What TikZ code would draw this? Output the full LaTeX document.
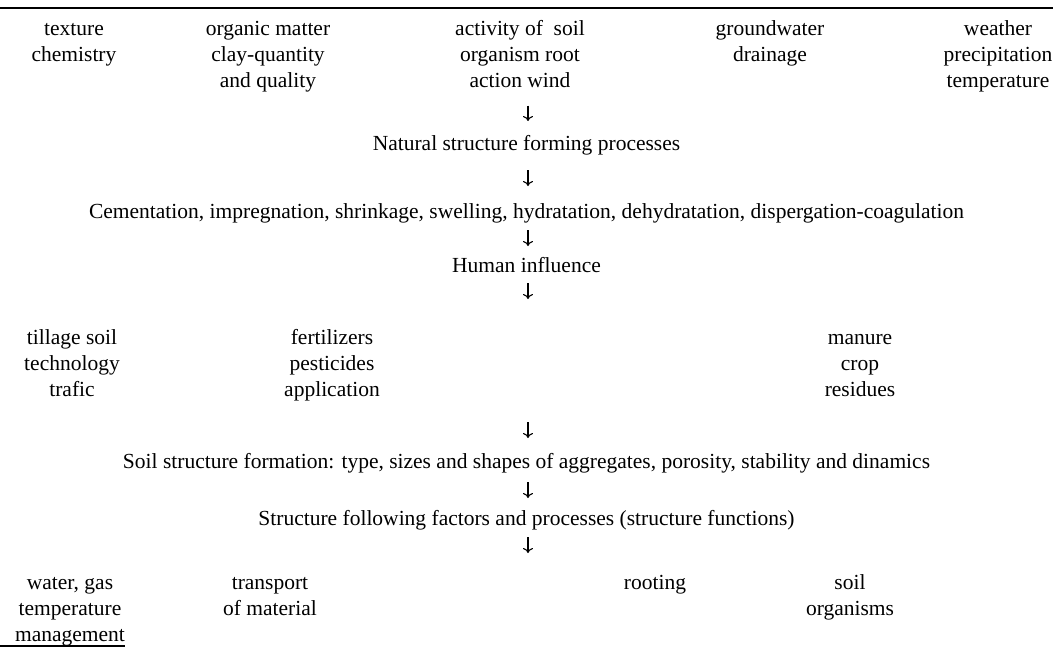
\documentclass[tikz,border=0pt]{standalone}
\usepackage{fontspec}
\setmainfont{Liberation Serif}
\usetikzlibrary{arrows.meta}
\tikzset{
	label/.style={anchor=north, inner sep=0pt, align=center, font=\fontsize{21.5}{26}\selectfont},
	flow/.style={-{To[length=5pt,width=10pt]}, line width=1.1pt},
	rule/.style={line width=1.4pt}
}
\begin{document}
\begin{tikzpicture}[x=1pt,y=-1pt]
	\useasboundingbox (0,0) rectangle (1053,648);
	% rules
	\draw[rule] (0,8) -- (1053,8);
	\draw[rule] (0,646) -- (125,646);
	% factors of the soil
	\node[label] (tex) at (74,16.7) {\strut texture\\chemistry};
	\node[label] (org) at (268,16.7) {\strut organic matter\\clay-quantity\\and quality};
	\node[label] (act) at (520,16.7) {\strut activity of~ soil\\organism root\\action wind};
	\node[label] (gw) at (770,16.7) {\strut groundwater\\drainage};
	\node[label] (wea) at (998,16.7) {\strut weather\\precipitation\\temperature};
	% processes
	\node[label] (nat) at (526.5,131.7) {\strut Natural structure forming processes};
	\node[label] (cem) at (526.5,199.7) {\strut Cementation, impregnation, shrinkage, swelling, hydratation, dehydratation, dispergation-coagulation};
	\node[label] (hum) at (526.5,253.7) {\strut Human influence};
	% human factors
	\node[label] (til) at (72,325.7) {\strut tillage soil\\technology\\trafic};
	\node[label] (fer) at (332,325.7) {\strut fertilizers\\pesticides\\application};
	\node[label] (man) at (860,325.7) {\strut manure\\crop\\residues};
	% result
	\node[label] (soi) at (526.5,449.7) {\strut Soil structure formation: type, sizes and shapes of aggregates, porosity, stability and dinamics};
	\node[label] (stf) at (526.5,506.7) {\strut Structure following factors and processes (structure functions)};
	% functions
	\node[label] (wat) at (70,570.7) {\strut water, gas\\temperature\\management};
	\node[label] (tra) at (270,570.7) {\strut transport\\of material};
	\node[label] (roo) at (655,570.7) {\strut rooting};
	\node[label] (sor) at (850,570.7) {\strut soil\\organisms};
	% arrows
	\coordinate (ax) at (528,0);
	\coordinate (hfree) at (528,299);
	\coordinate (sfree) at (528,422);
	\coordinate (ffree) at (528,553);
	\draw[flow, shorten <=18.1pt, shorten >=10.7pt] (ax |- act.south) -- (ax |- nat.north);
	\draw[flow, shorten <=12.3pt, shorten >=13.7pt] (ax |- nat.south) -- (ax |- cem.north);
	\draw[flow, shorten <=4.3pt, shorten >=7.7pt] (ax |- cem.south) -- (ax |- hum.north);
	\draw[flow, shorten <=3.3pt] (hfree |- hum.south) -- (hfree);
	\draw[flow, shorten >=11.7pt] (sfree) -- (sfree |- soi.north);
	\draw[flow, shorten <=6.3pt, shorten >=8.7pt] (ax |- soi.south) -- (ax |- stf.north);
	\draw[flow, shorten <=4.3pt] (ffree |- stf.south) -- (ffree);
\end{tikzpicture}
\end{document}
